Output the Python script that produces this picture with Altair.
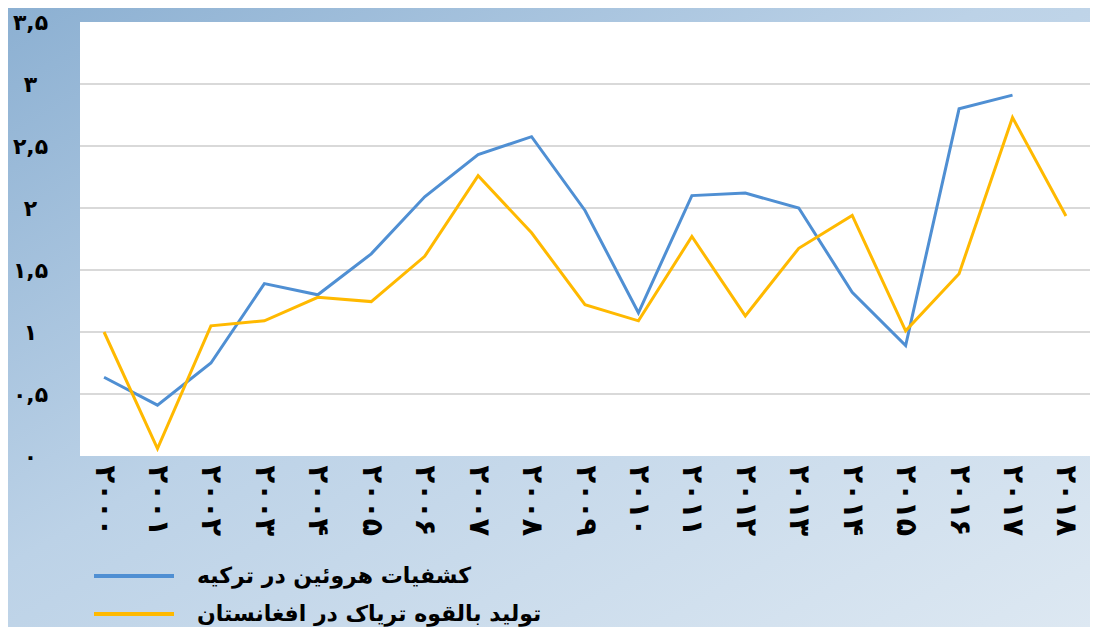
import altair as alt
import pandas as pd

years = ["۲۰۰۰", "۲۰۰۱", "۲۰۰۲", "۲۰۰۳", "۲۰۰۴", "۲۰۰۵", "۲۰۰۶", "۲۰۰۷", "۲۰۰۸", "۲۰۰۹",
         "۲۰۱۰", "۲۰۱۱", "۲۰۱۲", "۲۰۱۳", "۲۰۱۴", "۲۰۱۵", "۲۰۱۶", "۲۰۱۷", "۲۰۱۸"]
series_names = ["کشفیات هروئین در ترکیه", "تولید بالقوه تریاک در افغانستان"]
heroin_turkey = [0.635, 0.41, 0.75, 1.39, 1.30, 1.63, 2.09, 2.43, 2.575, 1.98,
                 1.155, 2.10, 2.12, 2.00, 1.32, 0.89, 2.80, 2.91]
opium_afghan = [1.00, 0.06, 1.05, 1.09, 1.28, 1.245, 1.61, 2.26, 1.80, 1.22,
                1.09, 1.77, 1.13, 1.675, 1.94, 1.01, 1.47, 2.73, 1.935]
y_ticks = [0, 0.5, 1, 1.5, 2, 2.5, 3, 3.5]
y_tick_labels = ["۰", "۰,۵", "۱", "۱,۵", "۲", "۲,۵", "۳", "۳,۵"]
grid_values = [0.5, 1, 1.5, 2, 2.5, 3]
colors = ["#4f8fd3", "#ffb900"]

rows = []
for yr, v in zip(years, heroin_turkey):
    rows.append({"year": yr, "value": v, "series": series_names[0]})
for yr, v in zip(years, opium_afghan):
    rows.append({"year": yr, "value": v, "series": series_names[1]})
df = pd.DataFrame(rows)

W, H = 1010, 434
PAD = {"left": 72, "top": 14, "right": 0, "bottom": 171}

label_expr = ""
for t, lab in zip(y_ticks, y_tick_labels):
    label_expr += f"datum.value == {t} ? '{lab}' : "
label_expr += "''"

FONT = "DejaVu Sans"
one = pd.DataFrame({"a": [0]})

y_scale = alt.Scale(domain=[0, 3.5], nice=False)
y_axis = alt.Axis(title=None, values=y_ticks, labelExpr=label_expr,
                  domain=False, ticks=False, grid=False,
                  labelAlign="center", labelBaseline="middle",
                  labelPadding=50, labelFont=FONT, labelFontSize=22,
                  labelFontWeight="bold", labelColor="black", zindex=1)

bg = alt.Chart(one).mark_rect(
    fill=alt.Gradient(
        gradient="linear", x1=0, y1=0, x2=1, y2=1,
        stops=[alt.GradientStop(offset=0, color="#8cb0d2"),
               alt.GradientStop(offset=0.45, color="#bcd2e7"),
               alt.GradientStop(offset=1, color="#dde8f2")],
    )
).encode(
    x=alt.value(-PAD["left"]), x2=alt.value(W + PAD["right"]),
    y=alt.value(-PAD["top"]), y2=alt.value(H + PAD["bottom"]),
)

plot_bg = alt.Chart(one).mark_rect(fill="white").encode(
    x=alt.value(0), x2=alt.value(W), y=alt.value(0), y2=alt.value(H)
)

grid = alt.Chart(pd.DataFrame({"value": grid_values})).mark_rule(
    color="#d9d9d9", strokeWidth=2
).encode(y=alt.Y("value:Q", scale=y_scale, axis=y_axis))

lines = alt.Chart(df).mark_line(strokeWidth=3).encode(
    x=alt.X("year:O", sort=years,
            scale=alt.Scale(type="point", padding=0.45),
            axis=alt.Axis(title=None, labelAngle=90, domain=False, ticks=False,
                          labelFont=FONT, labelFontSize=29, labelFontWeight="bold",
                          labelColor="black", labelPadding=9, zindex=1)),
    y=alt.Y("value:Q", scale=y_scale, axis=y_axis),
    color=alt.Color("series:N",
                    scale=alt.Scale(domain=series_names, range=colors),
                    legend=alt.Legend(title=None, orient="none", legendX=32, legendY=532,
                                      symbolType="M-2,0L2,0", symbolSize=1600,
                                      symbolStrokeWidth=4, labelFont=FONT,
                                      labelFontSize=22, labelFontWeight="bold",
                                      labelColor="black", labelOffset=41,
                                      rowPadding=5, labelLimit=600)),
)

chart = alt.layer(bg, plot_bg, grid, lines).properties(
    width=W, height=H,
    autosize=alt.AutoSizeParams(type="none"),
    padding=PAD,
).configure_view(stroke=None)

chart.save("out.html", embed_options={"renderer": "svg", "actions": False})
